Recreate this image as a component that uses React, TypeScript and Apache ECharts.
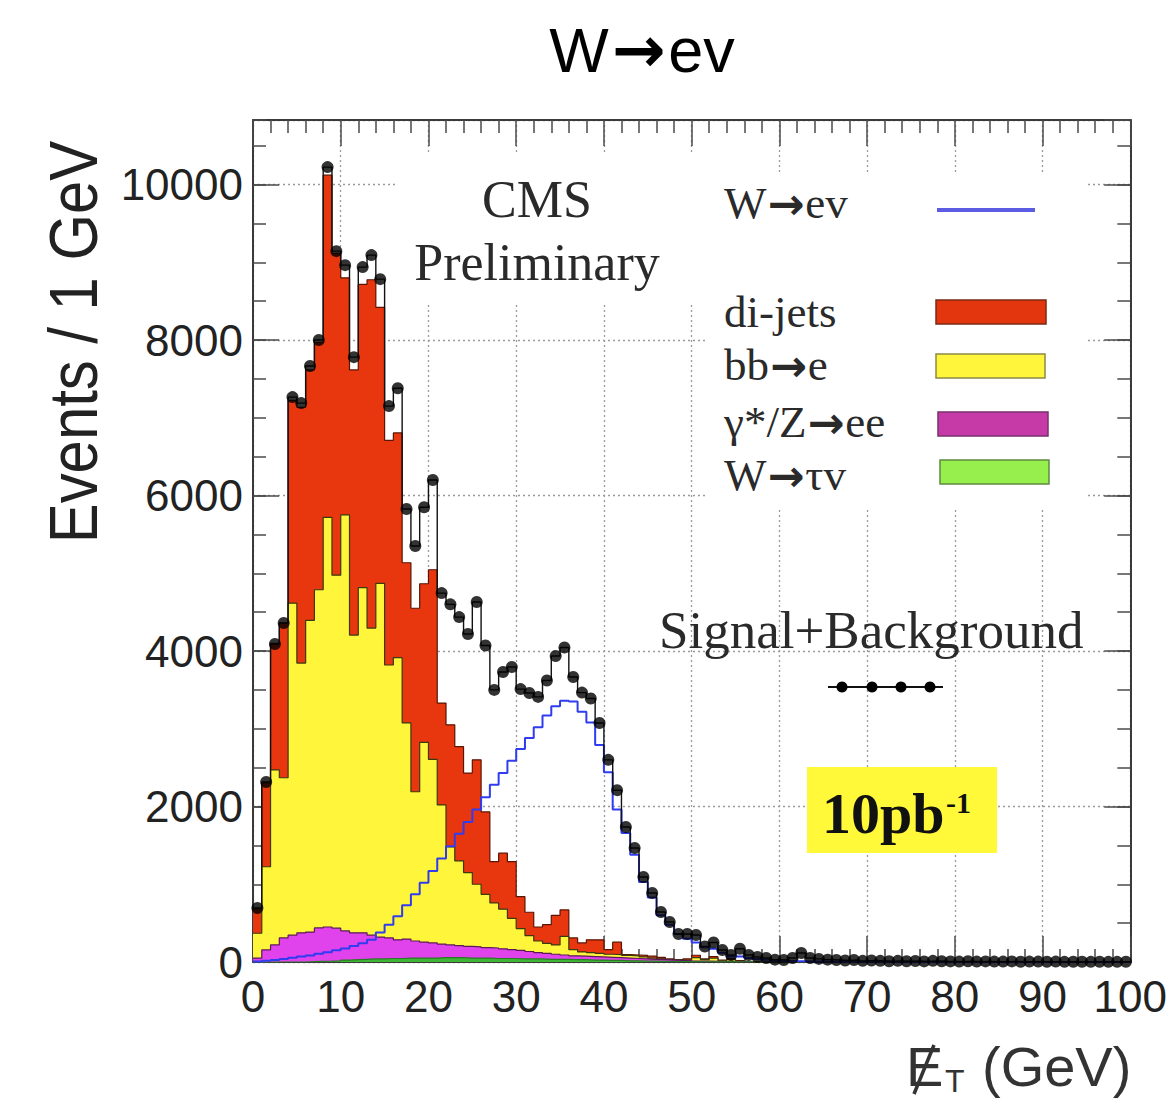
import React, { useEffect, useRef } from 'react';
import * as echarts from 'echarts';

// ---- data (1 GeV bins, 0..100 GeV) ----
const X_MIN = 0;
const X_MAX = 100;
const Y_MAX = 10830;
const X_TICK_STEP = 10;
const Y_TICK_STEP = 2000;

// Signal+Background (black points)
const sigPlusBkg = [
  694, 2315, 4090, 4360, 7266, 7189, 7665, 8000, 10224, 9143,
  8963, 7780, 8938, 9092, 8783, 7150, 7380, 5826, 5350, 5850,
  6200, 4745, 4600, 4436, 4218, 4630, 4070, 3500, 3730, 3794,
  3510, 3460, 3410, 3620, 3935, 4045, 3665, 3465, 3390, 3074,
  2600, 2210, 1736, 1466, 1093, 887, 643, 514, 360, 360,
  347, 200, 250, 154, 90, 170, 90, 64, 51, 30,
  26, 51, 116, 51, 40, 30, 25, 20, 25, 15,
  20, 15, 10, 15, 10, 12, 8, 15, 10, 8,
  5, 10, 5, 8, 5, 5, 8, 3, 5, 5,
  3, 5, 2, 4, 3, 2, 3, 2, 2, 3,
];

// W -> e nu (blue line)
const wENu = [
  5, 15, 25, 40, 55, 70, 85, 105, 125, 150,
  175, 205, 240, 285, 380, 480, 590, 730, 870, 1020,
  1170, 1330, 1490, 1650, 1800, 1960, 2120, 2280, 2430, 2590,
  2740, 2880, 3020, 3170, 3290, 3360, 3350, 3220, 3080, 2790,
  2440, 1960, 1660, 1380, 1030, 830, 600, 480, 360, 300,
  250, 190, 170, 120, 70, 70, 50, 40, 30, 20,
  15, 12, 10, 8, 6, 5, 4, 3, 3, 2,
  2, 2, 1, 1, 1, 1, 1, 1, 1, 1,
  0, 0, 0, 0, 0, 0, 0, 0, 0, 0,
  0, 0, 0, 0, 0, 0, 0, 0, 0, 0,
];

// di-jets (red)
const diJets = [
  310, 1080, 1630, 1990, 2610, 3290, 3220, 3180, 4400, 4140,
  3050, 3410, 3900, 4480, 3550, 2890, 2890, 2060, 2360, 2040,
  2440, 1310, 1570, 1470, 1280, 1600, 1060, 530, 720, 730,
  410, 300, 180, 240, 380, 340, 150, 115, 165, 175,
  60, 160, 10, 10, 20, 25, 20, 10, 5, 20,
  30, 10, 20, 10, 15, 10, 0, 0, 0, 0,
  0, 0, 0, 0, 0, 0, 0, 0, 0, 0,
  0, 0, 0, 0, 0, 0, 0, 0, 0, 0,
  0, 0, 0, 0, 0, 0, 0, 0, 0, 0,
  0, 0, 0, 0, 0, 0, 0, 0, 0, 0,
];

// bb -> e (yellow)
const bbE = [
  320, 1070, 2250, 2060, 4270, 3470, 4010, 4350, 5270, 4540,
  5350, 3830, 4440, 3950, 4550, 3510, 3630, 2780, 1920, 2570,
  2360, 1790, 1260, 1090, 950, 805, 685, 580, 510, 400,
  280, 205, 150, 130, 120, 240, 80, 55, 50, 45,
  40, 40, 35, 35, 25, 15, 10, 5, 5, 5,
  45, 20, 40, 10, 25, 5, 0, 0, 0, 0,
  0, 0, 0, 0, 0, 0, 0, 0, 0, 0,
  0, 0, 0, 0, 0, 0, 0, 0, 0, 0,
  0, 0, 0, 0, 0, 0, 0, 0, 0, 0,
  0, 0, 0, 0, 0, 0, 0, 0, 0, 0,
];

// gamma*/Z -> ee (magenta)
const zEE = [
  50, 155, 220, 310, 345, 375, 380, 430, 440, 420,
  375, 345, 340, 305, 280, 265, 240, 245, 220, 205,
  195, 175, 165, 155, 150, 145, 135, 135, 125, 115,
  110, 95, 80, 75, 65, 55, 50, 45, 45, 40,
  40, 35, 35, 30, 30, 25, 22, 19, 15, 11,
  9, 7, 6, 4, 3, 3, 2, 1, 2, 1,
  1, 0, 0, 0, 0, 0, 0, 0, 0, 0,
  0, 0, 0, 0, 0, 0, 0, 0, 0, 0,
  0, 0, 0, 0, 0, 0, 0, 0, 0, 0,
  0, 0, 0, 0, 0, 0, 0, 0, 0, 0,
];

// W -> tau nu (green)
const wTauNu = [
  0, 0, 0, 0, 0, 0, 5, 8, 10, 15,
  25, 30, 35, 40, 40, 45, 45, 50, 50, 50,
  50, 55, 55, 55, 50, 50, 50, 45, 45, 45,
  40, 40, 40, 35, 35, 35, 30, 30, 25, 25,
  20, 20, 15, 15, 10, 10, 8, 6, 5, 4,
  3, 3, 2, 2, 2, 1, 1, 1, 0, 0,
  0, 0, 0, 0, 0, 0, 0, 0, 0, 0,
  0, 0, 0, 0, 0, 0, 0, 0, 0, 0,
  0, 0, 0, 0, 0, 0, 0, 0, 0, 0,
  0, 0, 0, 0, 0, 0, 0, 0, 0, 0,
];

// legend labels as [before arrow, after arrow] ('' after = no arrow)
const legendLabels: string[][] = [
  ['W', 'ev'],
  ['di-jets', ''],
  ['bb', 'e'],
  ['\u03b3*/Z', 'ee'],
  ['W', '\u03c4v'],
];

// ---- helpers ----
const addArrays = (a: number[], b: number[]) => a.map((v, i) => v + b[i]);
// stacked cumulative tops (bottom to top: W->tau nu, Z->ee, bb->e, di-jets)
const cumGreen = wTauNu;
const cumMagenta = addArrays(cumGreen, zEE);
const cumYellow = addArrays(cumMagenta, bbE);
const cumRed = addArrays(cumYellow, diJets);

const toSteps = (vals: number[]) => {
  const pts: number[][] = vals.map((v, i) => [i, v]);
  pts.push([vals.length, vals[vals.length - 1]]);
  return pts;
};
const toCenters = (vals: number[]) => vals.map((v, i) => [i + 0.5, v]);

const SANS = "'Liberation Sans', Arial, Helvetica, sans-serif";
const SERIF = "'Liberation Serif', 'Times New Roman', serif";
const ARROWF = "'DejaVu Sans', sans-serif";
const FRAME = '#3a3a3a';
const TICK = '#4a4a4a';
const GRIDC = '#9a9a9a';

// each stacked layer drawn as a filled step down to zero, top layer first
const areaSeries = (name: string, vals: number[], fill: string, stroke: string, z: number) => ({
  type: 'line',
  name,
  data: toSteps(vals),
  step: 'end',
  symbol: 'none',
  silent: true,
  lineStyle: { color: stroke, width: 1.2 },
  areaStyle: { color: fill, opacity: 1, origin: 'start' },
  z,
});

const txt = (
  text: string, x: number, y: number, fontSize: number, family: string,
  align: string, extra: any = {}
) => ({
  type: 'text',
  x,
  y,
  z: 20,
  silent: true,
  rotation: extra.rotation || 0,
  scaleX: extra.scaleX || 1,
  style: {
    text,
    fontSize,
    fontFamily: family,
    fontWeight: extra.fontWeight || 'normal',
    fill: extra.fill || '#2a2a2a',
    align,
    textAlign: align,
    verticalAlign: 'middle',
    textVerticalAlign: 'middle',
    rich: extra.rich,
  },
});

const arrowText = (before: string, after: string) =>
  after ? `{t|${before}}{r|\u2192}{t|${after}}` : `{t|${before}}`;

export default function App() {
  const ref = useRef<HTMLDivElement>(null);

  useEffect(() => {
    const chart = echarts.init(ref.current!, undefined, { renderer: 'svg' });

    const xAxisBase = {
      type: 'value',
      min: X_MIN,
      max: X_MAX,
      interval: X_TICK_STEP,
      axisLine: { show: true, onZero: false, lineStyle: { color: FRAME, width: 2 } },
      axisTick: { show: true, inside: true, length: 26, lineStyle: { color: TICK, width: 1.5 } },
      minorTick: { show: true, splitNumber: 5, length: 13, lineStyle: { color: TICK, width: 1.5 } },
    };
    const yAxisBase = {
      type: 'value',
      min: 0,
      max: Y_MAX,
      axisLine: { show: false, onZero: false, lineStyle: { color: FRAME, width: 2 } },
      axisLabel: { show: false },
      splitLine: { show: false },
    };

    const legendY = [203, 312, 365, 422, 475];
    const legendRich = {
      t: { fontSize: 45, fontFamily: SERIF, color: '#2a2a2a' },
      r: { fontSize: 44, fontFamily: ARROWF, fontWeight: 'bold', color: '#2a2a2a', padding: [0, 1, 0, 1] },
    };
    const titleRich = {
      t: { fontSize: 63, fontFamily: SANS, color: '#000' },
      r: { fontSize: 64, fontFamily: ARROWF, fontWeight: 'bold', color: '#000', padding: [0, 3, 0, 3] },
    };

    const option: any = {
      animation: false,
      backgroundColor: '#ffffff',
      grid: { left: 253, right: 37, top: 120, bottom: 139, containLabel: false },
      xAxis: [
        {
          ...xAxisBase,
          position: 'bottom',
          axisLabel: { show: true, fontSize: 44, fontFamily: SANS, color: '#222', margin: 12 },
          splitLine: { show: true, lineStyle: { color: GRIDC, width: 1.3, type: [2, 3] } },
        },
        {
          ...xAxisBase,
          position: 'top',
          axisLabel: { show: false },
          splitLine: { show: false },
        },
      ],
      yAxis: [
        {
          ...yAxisBase,
          interval: Y_TICK_STEP,
          position: 'left',
          axisLine: { show: true, onZero: false, lineStyle: { color: FRAME, width: 2 } },
          axisTick: { show: true, inside: true, length: 26, lineStyle: { color: TICK, width: 1.5 } },
          axisLabel: {
            show: true,
            fontSize: 44,
            fontFamily: SANS,
            color: '#222',
            margin: 10,
            showMaxLabel: false,
            formatter: (v: number) => (v % Y_TICK_STEP === 0 ? String(v) : ''),
          },
          splitLine: { show: true, lineStyle: { color: GRIDC, width: 1.3, type: [2, 3] } },
        },
        {
          ...yAxisBase,
          interval: 500,
          position: 'left',
          axisTick: { show: true, inside: true, length: 13, lineStyle: { color: TICK, width: 1.5 } },
        },
        {
          ...yAxisBase,
          interval: Y_TICK_STEP,
          position: 'right',
          axisLine: { show: true, onZero: false, lineStyle: { color: FRAME, width: 2 } },
          axisTick: { show: true, inside: true, length: 26, lineStyle: { color: TICK, width: 1.5 } },
        },
        {
          ...yAxisBase,
          interval: 500,
          position: 'right',
          axisTick: { show: true, inside: true, length: 13, lineStyle: { color: TICK, width: 1.5 } },
        },
      ],
      series: [
        areaSeries('di-jets', cumRed, '#e8360f', '#5a1505', 2),
        areaSeries('bb\u2192e', cumYellow, '#fff53a', '#3a3a10', 3),
        areaSeries('\u03b3*/Z\u2192ee', cumMagenta, '#e043ec', '#5a1a5a', 4),
        areaSeries('W\u2192\u03c4v', cumGreen, '#3fb535', '#2a7a25', 5),
        {
          type: 'line',
          name: 'W\u2192ev',
          data: toSteps(wENu),
          step: 'end',
          symbol: 'none',
          silent: true,
          lineStyle: { color: '#2f3cf0', width: 2 },
          z: 6,
        },
        {
          type: 'line',
          name: 'Signal+Background line',
          data: toSteps(sigPlusBkg),
          step: 'end',
          symbol: 'none',
          silent: true,
          lineStyle: { color: '#111', width: 1.4 },
          z: 7,
        },
        {
          type: 'scatter',
          name: 'Signal+Background',
          data: toCenters(sigPlusBkg),
          symbol: 'circle',
          symbolSize: 12,
          silent: true,
          itemStyle: { color: '#000' },
          z: 8,
        },
      ],
      graphic: [
        // white boxes behind the text blocks (hide gridlines)
        { type: 'rect', z: 1, silent: true, shape: { x: 395, y: 152, width: 313, height: 150 }, style: { fill: '#fff' } },
        { type: 'rect', z: 1, silent: true, shape: { x: 707, y: 172, width: 381, height: 338 }, style: { fill: '#fff' } },
        // title
        txt(arrowText('W', 'ev'), 642, 50, 63, SANS, 'center', { fill: '#000', rich: titleRich }),
        // y-axis title
        txt('Events / 1 GeV', 74, 342, 68, SANS, 'center', { rotation: Math.PI / 2, scaleX: 0.88, fill: '#222' }),
        // x-axis title
        txt('E', 906, 1066, 56, SANS, 'left', { fill: '#333' }),
        {
          type: 'line', z: 20, silent: true,
          shape: { x1: 914, y1: 1094, x2: 934, y2: 1045 },
          style: { stroke: '#333', lineWidth: 3.5 },
        },
        txt('T', 945, 1081, 32, SANS, 'left', { fill: '#333' }),
        txt('(GeV)', 982, 1066, 56, SANS, 'left', { fill: '#333' }),
        // CMS Preliminary
        txt('CMS', 537, 199, 52, SERIF, 'center'),
        txt('Preliminary', 537, 262, 52, SERIF, 'center'),
        // legend
        ...legendLabels.map((l, i) =>
          txt(arrowText(l[0], l[1]), 724, legendY[i], 45, SERIF, 'left', { rich: legendRich })
        ),
        {
          type: 'line', z: 20, silent: true,
          shape: { x1: 937, y1: 210, x2: 1035, y2: 210 },
          style: { stroke: '#5b5be3', lineWidth: 4 },
        },
        { type: 'rect', z: 20, silent: true, shape: { x: 936, y: 300, width: 110, height: 24 }, style: { fill: '#e3360f', stroke: '#7a2a14', lineWidth: 1.5 } },
        { type: 'rect', z: 20, silent: true, shape: { x: 936, y: 354, width: 109, height: 24 }, style: { fill: '#fff63b', stroke: '#8c8a45', lineWidth: 1.5 } },
        { type: 'rect', z: 20, silent: true, shape: { x: 938, y: 412, width: 110, height: 24 }, style: { fill: '#c63aa8', stroke: '#7a2f6e', lineWidth: 1.5 } },
        { type: 'rect', z: 20, silent: true, shape: { x: 940, y: 460, width: 109, height: 24 }, style: { fill: '#96ef4c', stroke: '#5d8a42', lineWidth: 1.5 } },
        // Signal+Background label
        txt('Signal+Background', 659, 630, 53, SERIF, 'left'),
        {
          type: 'line', z: 20, silent: true,
          shape: { x1: 828, y1: 687, x2: 943, y2: 687 },
          style: { stroke: '#111', lineWidth: 2 },
        },
        { type: 'circle', z: 20, silent: true, shape: { cx: 842, cy: 687, r: 5.5 }, style: { fill: '#000' } },
        { type: 'circle', z: 20, silent: true, shape: { cx: 872, cy: 687, r: 5.5 }, style: { fill: '#000' } },
        { type: 'circle', z: 20, silent: true, shape: { cx: 901, cy: 687, r: 5.5 }, style: { fill: '#000' } },
        { type: 'circle', z: 20, silent: true, shape: { cx: 930, cy: 687, r: 5.5 }, style: { fill: '#000' } },
        // 10 pb-1 box
        { type: 'rect', z: 19, silent: true, shape: { x: 807, y: 767, width: 190, height: 86 }, style: { fill: '#fff93a' } },
        txt('10pb', 822, 813, 58, SERIF, 'left', { fontWeight: 'bold', fill: '#111' }),
        txt('-1', 946, 802, 30, SERIF, 'left', { fontWeight: 'bold', fill: '#111' }),
      ],
    };

    chart.setOption(option);
    return () => chart.dispose();
  }, []);

  return (
    <div
      ref={ref}
      style={{ position: 'fixed', left: 0, top: 0, width: 1170, height: 1101, background: '#fff' }}
    />
  );
}
